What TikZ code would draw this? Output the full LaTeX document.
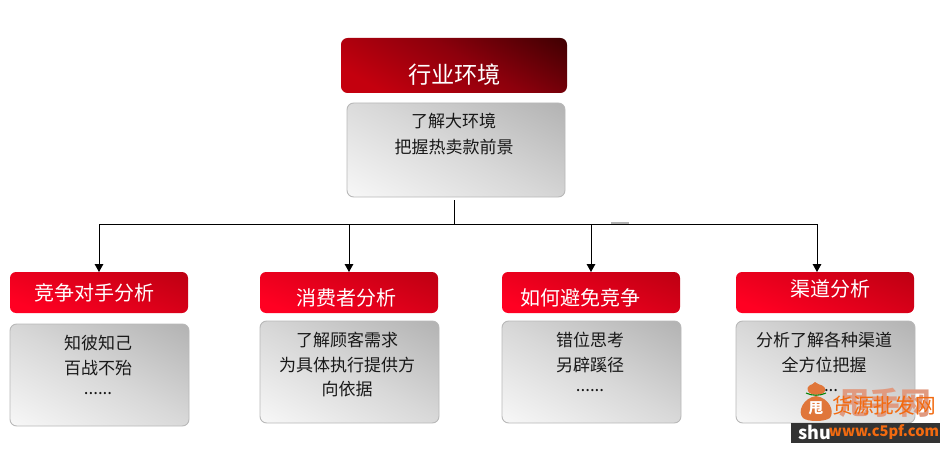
\documentclass[tikz,border=0pt]{standalone}
\usepackage{fontspec}
\setmainfont{Noto Sans CJK SC}
\usetikzlibrary{arrows.meta,shapes.geometric}
\newcommand{\pxbox}[6]{\node[#2,minimum width={(#5-#3)*0.75pt},minimum height={(#6-#4)*0.75pt}] (#1) at ({(#3+#5)/2},{(#4+#6)/2}) {};}
\definecolor{titlelo}{HTML}{C4000E}
\definecolor{titlemid}{HTML}{8C000C}
\definecolor{titlehi}{HTML}{300000}
\definecolor{headlo}{HTML}{FF0022}
\definecolor{headhi}{HTML}{B40010}
\definecolor{boxhi}{HTML}{AEAEAE}
\definecolor{boxmid}{HTML}{D8D8D8}
\definecolor{boxline}{HTML}{B8B8B8}
\definecolor{wmorange}{HTML}{F26A10}
\definecolor{wmbag}{HTML}{E0763A}
\definecolor{wmpale}{HTML}{E09A80}
\definecolor{wmbar}{HTML}{333333}
\pgfdeclareverticalshading{titleshade}{100bp}{color(0bp)=(titlelo); color(25bp)=(titlelo); color(55bp)=(titlemid); color(90bp)=(titlehi); color(100bp)=(titlehi)}
\pgfdeclareverticalshading{headshade}{100bp}{color(0bp)=(headlo); color(25bp)=(headlo); color(90bp)=(headhi); color(100bp)=(headhi)}
\pgfdeclareverticalshading{grayshade}{100bp}{color(0bp)=(white); color(8bp)=(white); color(50bp)=(boxmid); color(88bp)=(boxhi); color(100bp)=(boxhi)}
\tikzset{
  every node/.style={inner sep=0pt,outer sep=0pt},
  titlebox/.style={rectangle,rounded corners=5pt,shading=titleshade,shading angle=-30},
  headbox/.style={rectangle,rounded corners=4.5pt,shading=headshade,shading angle=-22},
  graybox/.style={rectangle,rounded corners=5pt,draw=boxline,line width=0.7pt,shading=grayshade,shading angle=-28},
  titletext/.style={text=white,font=\fontsize{17.4pt}{20pt}\selectfont},
  headtext/.style={text=white,font=\fontsize{15pt}{18pt}\selectfont},
  bodytext/.style={text=black!90,font=\fontsize{12.75pt}{15pt}\selectfont},
  link/.style={draw=black,line width=0.6pt},
  linkarrow/.style={link,-{Triangle[length=6pt,width=6.5pt]}},
}
\begin{document}
\begin{tikzpicture}[x=0.75pt,y=-0.75pt]
\useasboundingbox (0,0) rectangle (946,453);

% top
\pxbox{title}{titlebox}{341}{38}{567}{93}
\pxbox{topbox}{graybox}{347}{103}{565}{197}
\node[titletext] (titlet) at (454.5,75) {行业环境};
\node[bodytext] (topa) at (453.5,121) {了解大环境};
\node[bodytext] (topb) at (454,147) {把握热卖款前景};

% heads
\pxbox{heada}{headbox}{10}{272}{188}{313}
\pxbox{headb}{headbox}{260}{272}{438}{313}
\pxbox{headc}{headbox}{502}{272}{680}{313}
\pxbox{headd}{headbox}{736}{272}{914}{313}
\node[headtext] (heada text) at (94,293) {竞争对手分析};
\node[headtext] (headb text) at (346,298) {消费者分析};
\node[headtext] (headc text) at (580,298) {如何避免竞争};
\node[headtext] (headd text) at (830,289) {渠道分析};

% gray boxes
\pxbox{boxa}{graybox}{10}{324}{189}{426}
\pxbox{boxb}{graybox}{260}{321}{439}{423}
\pxbox{boxc}{graybox}{502}{321}{681}{423}
\pxbox{boxd}{graybox}{736}{321}{915}{423}
\node[bodytext] (a1) at (98,343) {知彼知己};
\node[bodytext] (a2) at (98,368) {百战不殆};
\node[bodytext] (a3) at (98,394) {......};
\node[bodytext] (b1) at (347,340) {了解顾客需求};
\node[bodytext] (b2) at (347,365) {为具体执行提供方};
\node[bodytext] (b3) at (347,389) {向依据};
\node[bodytext] (c1) at (590,340) {错位思考};
\node[bodytext] (c2) at (590,365) {另辟蹊径};
\node[bodytext] (c3) at (590,391) {......};
\node[bodytext] (d1) at (824,340) {分析了解各种渠道};
\node[bodytext] (d2) at (824,365) {全方位把握};
\node[bodytext] (d3) at (824,391) {......};

% connectors
\coordinate (trunkstart) at (454,200);
\coordinate (junction) at (454,224);
\coordinate (busa) at (99,224);
\coordinate (busb) at (349,224);
\coordinate (busc) at (591,224);
\coordinate (busd) at (817,224);
\coordinate (headdin) at (817,272);
\fill[black!30] (611,222) rectangle (629,224);
\draw[link] (trunkstart) -- (junction);
\draw[link] (busa) -- (busd);
\draw[linkarrow] (busa) -- (heada.north);
\draw[linkarrow] (busb) -- (headb.north);
\draw[linkarrow] (busc) -- (headc.north);
\draw[linkarrow] (busd) -- (headdin);

% watermark
\node[text=wmpale,font=\bfseries\fontsize{23pt}{25pt}\selectfont] (wmpaletext) at (885,403) {甩手网};
\fill[wmbag] (816,396) .. controls (803,398) and (797,412) .. (803,418) .. controls (808,422) and (824,422) .. (830,418) .. controls (835,411) and (829,398) .. (816,396) -- cycle;
\fill[wmbag] (808,391) .. controls (806,384) and (812,386) .. (815,382) .. controls (819,386) and (826,384) .. (825,391) .. controls (823,396) and (810,396) .. (808,391) -- cycle;
\draw[green!50!black,line width=0.8pt] (806,393) .. controls (812,396) and (820,396) .. (826,393);
\node[text=white,font=\bfseries\fontsize{11pt}{12pt}\selectfont] (wmbagtext) at (816,408) {甩};
\node[text=wmorange,font=\fontsize{15.5pt}{18pt}\selectfont] (wmtext) at (884,406) {货源批发网};
\fill[wmbar] (791,423) rectangle (940,443);
\node[text=white,font=\bfseries\fontsize{13.5pt}{15pt}\selectfont] (wmshu) at (815,432) {shu};
\node[text=wmorange,font=\bfseries\fontsize{11pt}{13pt}\selectfont] (wmurl) at (884,432) {www.c5pf.com};
\end{tikzpicture}
\end{document}
